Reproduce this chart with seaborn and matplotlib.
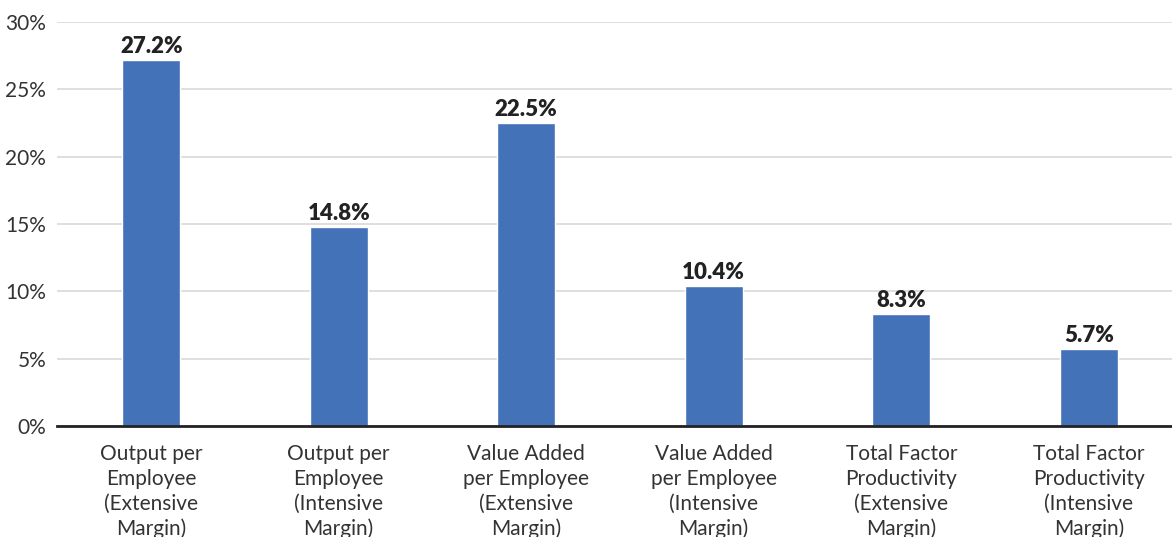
import matplotlib
matplotlib.use("Agg")
import matplotlib.pyplot as plt
import seaborn as sns
import pandas as pd

categories = [
    "Output per\nEmployee\n(Extensive\nMargin)",
    "Output per\nEmployee\n(Intensive\nMargin)",
    "Value Added\nper Employee\n(Extensive\nMargin)",
    "Value Added\nper Employee\n(Intensive\nMargin)",
    "Total Factor\nProductivity\n(Extensive\nMargin)",
    "Total Factor\nProductivity\n(Intensive\nMargin)",
]
values = [27.2, 14.8, 22.5, 10.4, 8.3, 5.7]
yticks = [0, 5, 10, 15, 20, 25, 30]

sns.set_theme(style="white")
plt.rcParams["font.family"] = ["Lato", "DejaVu Sans"]

df = pd.DataFrame({"cat": categories, "val": values})

fig = plt.figure(figsize=(11.72, 5.37), dpi=100)
ax = fig.add_axes([0.049, 0.2067, 0.96, 0.7523])

sns.barplot(data=df, x="cat", y="val", color="#4472B9", width=0.31,
            saturation=1, ax=ax, zorder=3)

ax.set_ylim(0, 30)
ax.set_xlim(-0.5, len(categories) - 0.5)
ax.set_yticks(yticks)
ax.set_yticklabels([f"{t}%" for t in yticks], fontsize=15, color="#333333")
ax.yaxis.grid(True, color="#d9d9d9", linewidth=1.2, zorder=0)
ax.set_axisbelow(True)

# category labels centred under each bar, ticks at category boundaries
ax.set_xticks(range(len(categories)))
ax.set_xticklabels(categories, fontsize=15, color="#333333", linespacing=1.3)
ax.tick_params(axis="x", which="major", length=0, pad=13)
ax.set_xticks([i + 0.5 for i in range(len(categories) - 1)], minor=True)
ax.tick_params(axis="x", which="minor", length=7, width=1.8, color="#222222",
               direction="out")
ax.tick_params(axis="y", length=0, pad=8)

for side in ["top", "right", "left"]:
    ax.spines[side].set_visible(False)
ax.spines["bottom"].set_color("#222222")
ax.spines["bottom"].set_linewidth(2)
ax.spines["bottom"].set_zorder(5)

ax.set_xlabel("")
ax.set_ylabel("")

for i, v in enumerate(values):
    ax.annotate(f"{v:.1f}%", (i, v), xytext=(0, 2), textcoords="offset points",
                ha="center", va="bottom", fontsize=16, fontweight="heavy",
                color="#222222")

fig.savefig("out.png", dpi=100)
